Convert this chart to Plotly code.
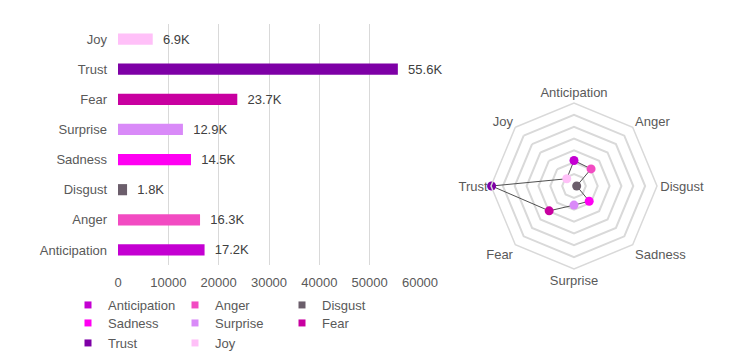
import plotly.graph_objects as go

# ---- data ----
categories = ["Anticipation", "Anger", "Disgust", "Sadness", "Surprise", "Fear", "Trust", "Joy"]
counts = [17200, 16300, 1800, 14500, 12900, 23700, 55600, 6900]
colors = ["#C400D2", "#F24BC2", "#6B5E6B", "#FF00F2", "#D98AF8", "#C800A0", "#7E00A6", "#FFC0F8"]
x_ticks = [0, 10000, 20000, 30000, 40000, 50000, 60000]
legend_rows = [["Anticipation", "Anger", "Disgust"],
               ["Sadness", "Surprise", "Fear"],
               ["Trust", "Joy"]]

# page has an 8px body margin: figure is 738x347, positions are page px - 8
OFF = 8
W, H = 754 - 2 * OFF, 363 - 2 * OFF
FONT = "Liberation Sans, Arial, sans-serif"
GRID = "#D9D9D9"
TXT = "#595959"


def px(xp):
    return (xp - OFF) / W


def py(yp):
    return 1 - (yp - OFF) / H


fig = go.Figure()

# ---- horizontal bars ----
for cat, val, col in zip(categories, counts, colors):
    fig.add_trace(go.Bar(
        x=[val], y=[cat], orientation="h",
        marker=dict(color=col, line=dict(width=0)),
        width=0.37,
        text=["\u00a0\u00a0" + f"{val/1000:.1f}K"],
        textposition="outside", cliponaxis=False, constraintext="none",
        textfont=dict(family=FONT, size=13, color="#404040"),
        showlegend=False, hoverinfo="x+y",
        xaxis="x", yaxis="y",
    ))

# ---- legend entries (square markers) ----
legend_names = ["legend", "legend2", "legend3"]
for row_i, row in enumerate(legend_rows):
    for cat in row:
        col = colors[categories.index(cat)]
        fig.add_trace(go.Scatter(
            x=[None], y=[None], mode="markers", name=cat,
            marker=dict(symbol="square", size=7, color=col),
            legend=legend_names[row_i], showlegend=True,
            xaxis="x", yaxis="y",
        ))

# ---- radar ----
fig.add_trace(go.Scatterpolar(
    r=counts + [counts[0]], theta=categories + [categories[0]],
    mode="lines", line=dict(color="#505050", width=1),
    showlegend=False, hoverinfo="skip", subplot="polar",
))
fig.add_trace(go.Scatterpolar(
    r=counts, theta=categories, mode="markers",
    marker=dict(color=colors, size=9, line=dict(width=0)),
    showlegend=False, subplot="polar",
))

cx, cy, rad = 574, 186, 83
legend_common = dict(
    orientation="h", xanchor="left", yanchor="top",
    entrywidth=62, entrywidthmode="pixels",
    font=dict(family=FONT, size=13, color=TXT),
    bgcolor="rgba(0,0,0,0)", borderwidth=0,
)

fig.update_layout(
    width=W, height=H,
    margin=dict(l=0, r=0, t=0, b=0, autoexpand=False),
    paper_bgcolor="white", plot_bgcolor="white",
    font=dict(family=FONT, size=13, color=TXT),
    barmode="overlay",
    xaxis=dict(
        domain=[px(118), px(420)], range=[0, 60000],
        tickvals=x_ticks, ticktext=[str(t) for t in x_ticks],
        showgrid=True, gridcolor=GRID, gridwidth=1,
        zeroline=False, showline=False, automargin=False,
        tickfont=dict(family=FONT, size=13, color=TXT),
        ticklabelstandoff=8, anchor="y",
    ),
    yaxis=dict(
        domain=[py(265), py(24)],
        categoryorder="array", categoryarray=categories,
        showgrid=False, zeroline=False, showline=False, automargin=False,
        tickfont=dict(family=FONT, size=13, color=TXT),
        ticklabelstandoff=10, anchor="x",
    ),
    polar=dict(
        domain=dict(x=[px(cx - rad), px(cx + rad)],
                    y=[py(cy + rad), py(cy - rad)]),
        gridshape="linear", bgcolor="white",
        angularaxis=dict(
            categoryorder="array", categoryarray=categories,
            rotation=90, direction="clockwise",
            showgrid=False, showline=True, linecolor=GRID, linewidth=1.5,
            ticks="", tickfont=dict(family=FONT, size=13, color=TXT),
        ),
        radialaxis=dict(
            range=[0, 56000], tick0=0, dtick=8000,
            showticklabels=False, showline=False, ticks="",
            gridcolor=GRID, gridwidth=1.5,
        ),
    ),
    legend=dict(x=px(68), y=py(290), **legend_common),
    legend2=dict(x=px(68), y=py(308), **legend_common),
    legend3=dict(x=px(68), y=py(328), **legend_common),
)

fig.write_html("out.html")
